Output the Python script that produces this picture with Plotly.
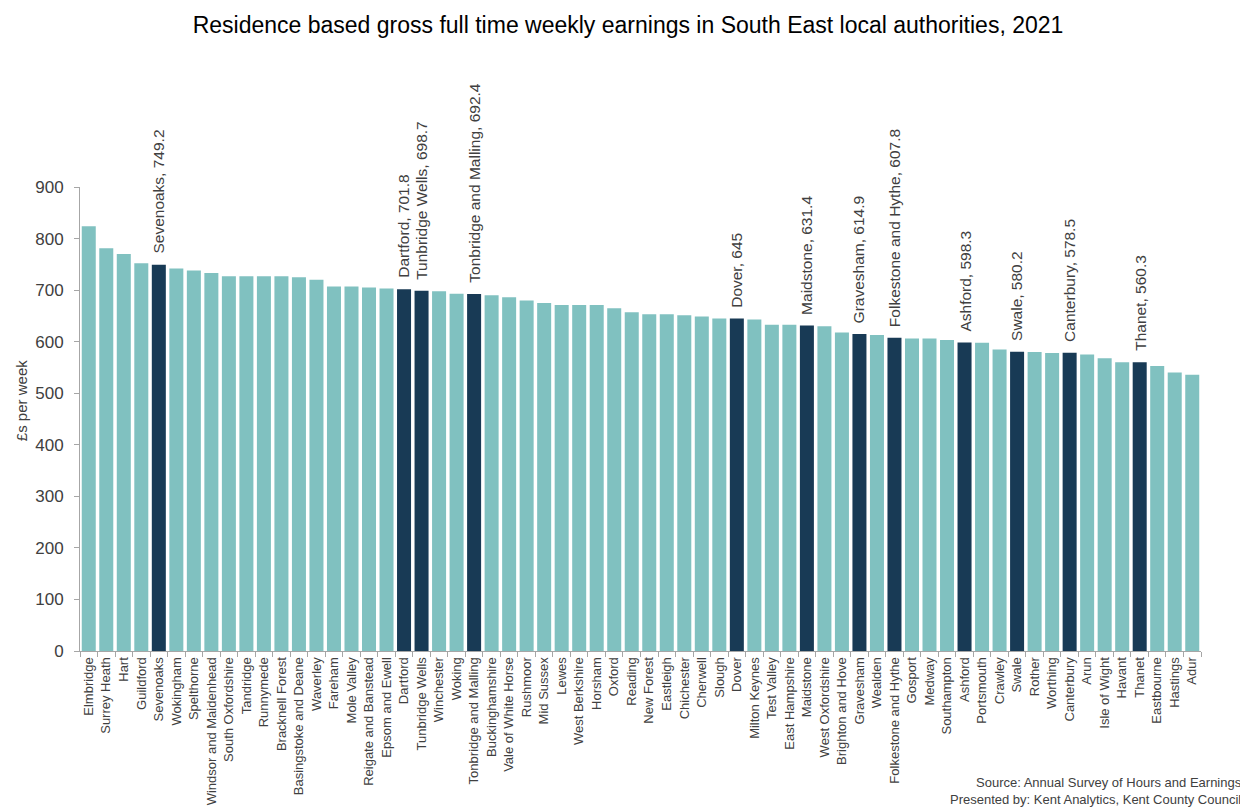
import plotly.graph_objects as go

authorities = [
    "Elmbridge", "Surrey Heath", "Hart", "Guildford", "Sevenoaks", "Wokingham", "Spelthorne",
    "Windsor and Maidenhead", "South Oxfordshire", "Tandridge", "Runnymede", "Bracknell Forest",
    "Basingstoke and Deane", "Waverley", "Fareham", "Mole Valley", "Reigate and Banstead",
    "Epsom and Ewell", "Dartford", "Tunbridge Wells", "Winchester", "Woking",
    "Tonbridge and Malling", "Buckinghamshire", "Vale of White Horse", "Rushmoor", "Mid Sussex",
    "Lewes", "West Berkshire", "Horsham", "Oxford", "Reading", "New Forest", "Eastleigh",
    "Chichester", "Cherwell", "Slough", "Dover", "Milton Keynes", "Test Valley", "East Hampshire",
    "Maidstone", "West Oxfordshire", "Brighton and Hove", "Gravesham", "Wealden",
    "Folkestone and Hythe", "Gosport", "Medway", "Southampton", "Ashford", "Portsmouth",
    "Crawley", "Swale", "Rother", "Worthing", "Canterbury", "Arun", "Isle of Wight", "Havant",
    "Thanet", "Eastbourne", "Hastings", "Adur",
]

earnings = [
    824, 781, 770, 752, 749.2, 742, 738,
    733, 727, 727, 727, 727,
    725, 720, 707, 707, 705,
    703, 701.8, 698.7, 698, 693,
    692.4, 690, 686, 680, 675,
    671, 671, 671, 665, 657, 653, 653,
    651, 649, 645, 645, 643, 633, 633,
    631.4, 630, 618, 614.9, 613,
    607.8, 606, 606, 603, 598.3, 598,
    585, 580.2, 580, 578, 578.5, 575, 568, 560,
    560.3, 553, 540, 536,
]

kent_authorities = [
    "Sevenoaks", "Dartford", "Tunbridge Wells", "Tonbridge and Malling", "Dover", "Maidstone",
    "Gravesham", "Folkestone and Hythe", "Ashford", "Swale", "Canterbury", "Thanet",
]

y_ticks = [0, 100, 200, 300, 400, 500, 600, 700, 800, 900]

FONT = "Liberation Sans, Arial, sans-serif"
LIGHT = "#80c1c0"
DARK = "#183a55"
TXT = "#404040"
colors = [DARK if a in kent_authorities else LIGHT for a in authorities]

fig = go.Figure()
fig.add_trace(go.Bar(
    x=authorities, y=earnings, marker=dict(color=colors, line=dict(width=0)),
    hoverinfo="x+y",
))

for a, v in zip(authorities, earnings):
    if a in kent_authorities:
        fig.add_annotation(
            x=a, y=v, text=f"{a}, {v:g}", textangle=-90, showarrow=False,
            xanchor="center", yanchor="bottom", yshift=9,
            font=dict(family=FONT, size=15.5, color=TXT),
        )

fig.add_annotation(
    xref="paper", yref="paper", x=1.038, y=-0.262, xanchor="right", yanchor="top",
    text="Source: Annual Survey of Hours and Earnings<br>Presented by: Kent Analytics, Kent County Council",
    showarrow=False, align="right",
    font=dict(family=FONT, size=13, color=TXT),
)

fig.add_annotation(
    xref="paper", yref="paper", x=-0.052, y=0.54, xanchor="center", yanchor="middle",
    text="£s per week", textangle=-90, showarrow=False,
    font=dict(family=FONT, size=15, color=TXT),
)

fig.update_layout(
    title=dict(
        text="Residence based gross full time weekly earnings in South East local authorities, 2021",
        x=0.5, xanchor="center", y=0.979, yanchor="middle",
        font=dict(family=FONT, size=23, color="#000000"),
    ),
    width=1240, height=802,
    margin=dict(l=72, r=47, t=179, b=159),
    paper_bgcolor="white", plot_bgcolor="white",
    bargap=0.2, showlegend=False,
    font=dict(family=FONT, color=TXT),
    xaxis=dict(
        tickangle=-90, tickfont=dict(size=13, color=TXT), automargin=False,
        showline=True, linecolor="#a6a6a6", linewidth=1,
        ticks="outside", tickson="boundaries", ticklen=5, tickcolor="#a6a6a6",
        showgrid=False,
    ),
    yaxis=dict(
        range=[0, 900], tickvals=y_ticks, tickfont=dict(size=17, color=TXT), automargin=False,
        showline=True, linecolor="#a6a6a6", linewidth=1,
        ticks="outside", ticklen=5, tickcolor="#a6a6a6", ticklabelstandoff=7,
        showgrid=False, zeroline=False,
    ),
)

fig.write_html("out.html")
